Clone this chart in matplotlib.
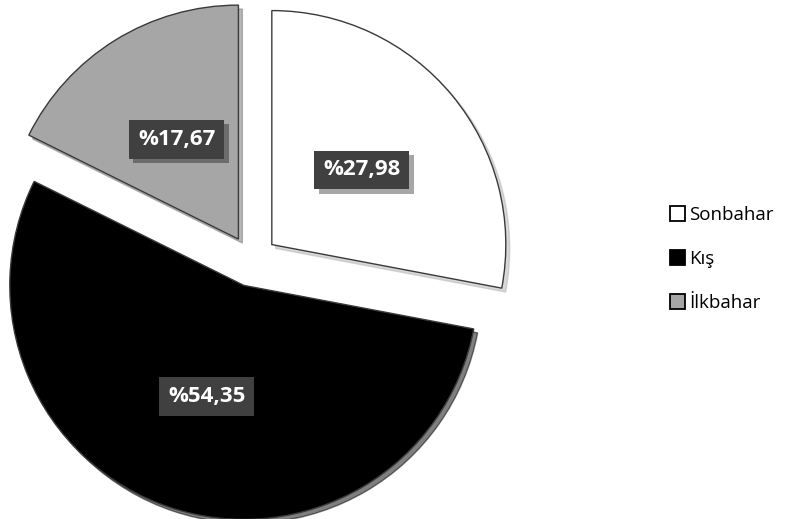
import matplotlib
matplotlib.use("Agg")
import matplotlib.pyplot as plt
import matplotlib.patheffects as pe

categories = ["Sonbahar", "Kış", "İlkbahar"]
values = [27.98, 54.35, 17.67]
colors = ["#ffffff", "#000000", "#a6a6a6"]

plt.rcParams['font.family'] = ['Open Sans', 'DejaVu Sans']

W, H = 787, 519
R_PX = 234.0
fig = plt.figure(figsize=(W / 100, H / 100), dpi=100)
ax = fig.add_axes([0, 0, 1, 1])

center = (252 / R_PX, (H - 261) / R_PX)

wedges, texts, autotexts = ax.pie(
    values, colors=colors, startangle=90, counterclock=False,
    explode=[0.11] * 3, center=center, radius=1.0,
    autopct=lambda p: ("%" + f"{p:.2f}".replace(".", ",")),
    pctdistance=0.5, labels=None,
    wedgeprops=dict(edgecolor="#3a3a3a", linewidth=1.0),
    shadow=dict(ox=0.012, oy=-0.012, shade=0.3),
    frame=True,
)
ax.set_xlim(0, W / R_PX)
ax.set_ylim(0, H / R_PX)
ax.set_axis_off()

for t in autotexts:
    t.set_fontsize(16)
    t.set_fontweight("bold")
    t.set_color("white")
    t.set_zorder(6)
    t.set_bbox(dict(boxstyle="square,pad=0.4", facecolor="#404040",
                    edgecolor="none"))
    t.get_bbox_patch().set_path_effects([
        pe.SimplePatchShadow(offset=(3, -3), shadow_rgbFace="black", alpha=0.35),
        pe.Normal()])

leg = ax.legend(wedges, categories, loc="center left",
                bbox_to_anchor=(662 / W, 1 - 259 / H), frameon=False,
                fontsize=13.5, handlelength=0.85, handleheight=0.85,
                handletextpad=0.2, labelspacing=1.4, borderaxespad=0)
for h in leg.legend_handles:
    h.set_edgecolor("#000000")
    h.set_linewidth(1.3)

fig.savefig("out.png", dpi=100)
